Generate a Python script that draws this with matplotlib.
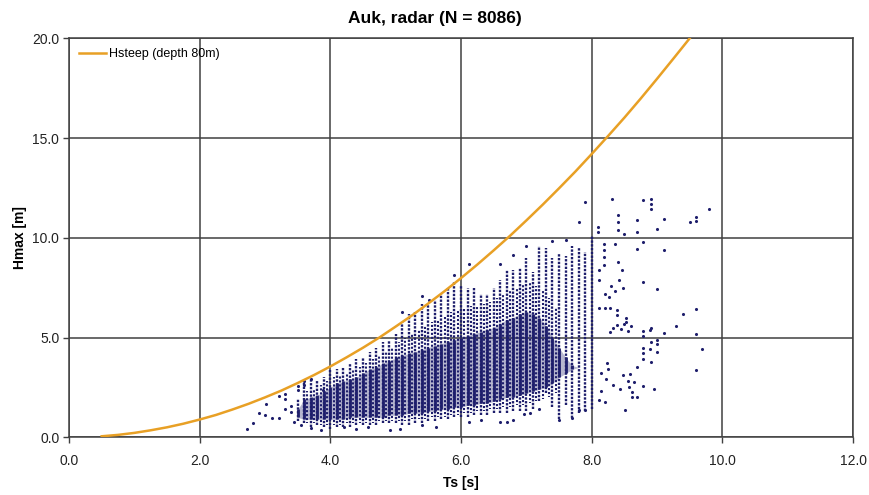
import matplotlib
matplotlib.use("Agg")
import matplotlib.pyplot as plt

plt.rcParams['font.family'] = ['Liberation Sans', 'DejaVu Sans']

# ---------------- data ----------------
# Hsteep limiting curve (depth 80 m)
steep_ts = [0.5, 0.75, 1.0, 1.25, 1.5, 1.75, 2.0, 2.25, 2.5, 2.75, 3.0, 3.25, 3.5,
            3.75, 4.0, 4.25, 4.5, 4.75, 5.0, 5.25, 5.5, 5.75, 6.0, 6.25, 6.5, 6.75,
            7.0, 7.25, 7.5, 7.75, 8.0, 8.25, 8.5, 8.75, 9.0, 9.25, 9.5]
steep_h = [0.05, 0.12, 0.22, 0.35, 0.50, 0.68, 0.89, 1.12, 1.39, 1.68, 2.00, 2.34, 2.72,
           3.12, 3.55, 4.01, 4.49, 5.00, 5.55, 6.11, 6.71, 7.33, 7.98, 8.66, 9.37, 10.10,
           10.87, 11.66, 12.48, 13.32, 14.20, 15.10, 16.02, 16.98, 17.97, 18.98, 20.00]

# Dense Ts columns of radar records: column Ts, full extent and dense core extent
col_ts = [3.5, 3.6, 3.7, 3.8, 3.9, 4.0, 4.1, 4.2, 4.3, 4.4, 4.5, 4.6, 4.7, 4.8, 4.9,
          5.0, 5.1, 5.2, 5.3, 5.4, 5.5, 5.6, 5.7, 5.8, 5.9, 6.0, 6.1, 6.2, 6.3, 6.4,
          6.5, 6.6, 6.7, 6.8, 6.9, 7.0, 7.1, 7.2, 7.3, 7.4, 7.5, 7.6, 7.7, 7.8, 7.9, 8.0]
col_lo = [0.8, 0.7, 0.5, 0.6, 0.5, 0.4, 0.5, 0.5, 0.5, 0.6, 0.6, 0.6, 0.6, 0.7, 0.7,
          0.7, 0.6, 0.6, 0.7, 0.7, 0.8, 0.8, 0.9, 0.9, 1.0, 1.0, 1.0, 1.1, 1.1, 1.1,
          1.2, 1.2, 1.2, 1.3, 1.3, 1.3, 1.4, 1.8, 2.2, 1.5, 0.9, 1.6, 0.95, 1.2, 1.3, 1.4]
col_hi = [1.9, 2.8, 2.9, 2.8, 3.0, 3.4, 3.4, 3.5, 3.7, 3.9, 4.0, 4.3, 4.5, 4.8, 4.9,
          5.2, 5.8, 6.2, 6.3, 6.7, 6.7, 6.9, 7.2, 7.5, 7.8, 7.6, 7.5, 7.5, 7.2, 7.2,
          7.5, 7.9, 8.4, 8.4, 8.5, 9.0, 8.3, 9.6, 9.5, 9.0, 9.2, 9.1, 9.6, 9.5, 9.3, 10.1]
core_lo = [1.0, 0.9, 0.9, 0.9, 0.9, 0.9, 0.9, 0.9, 1.0, 1.0, 1.0, 1.0, 1.0, 1.0, 1.1,
           1.1, 1.1, 1.2, 1.2, 1.2, 1.3, 1.3, 1.4, 1.4, 1.5, 1.5, 1.6, 1.6, 1.7, 1.7,
           1.8, 1.9, 2.0, 2.0, 2.1, 2.2, 2.3, 2.4, 2.5, 2.7, 3.0, 3.2, 3.4, 3.5, 3.5, 3.5]
core_hi = [1.4, 1.9, 2.0, 2.1, 2.3, 2.5, 2.7, 2.8, 2.9, 3.0, 3.2, 3.4, 3.5, 3.7, 3.8,
           4.0, 4.1, 4.2, 4.3, 4.4, 4.5, 4.6, 4.7, 4.8, 4.9, 5.0, 5.1, 5.2, 5.3, 5.4,
           5.5, 5.7, 5.9, 6.0, 6.2, 6.3, 6.2, 6.0, 5.6, 5.0, 4.5, 4.0, 3.6, 3.5, 3.5, 3.5]

# Intermediate Ts columns between the main ones
mid_ts = [3.65, 3.75, 3.85, 3.95, 4.05, 4.15, 4.25, 4.35, 4.45, 4.55, 4.65, 4.75, 4.85,
          4.95, 5.05, 5.15, 5.25, 5.35, 5.45, 5.55, 5.65, 5.75, 5.85, 5.95, 6.05, 6.15,
          6.25, 6.35, 6.45, 6.55, 6.65, 6.75, 6.85, 6.95, 7.05, 7.15, 7.25, 7.35, 7.45]
mid_lo = [0.7, 0.7, 0.6, 0.6, 0.6, 0.6, 0.7, 0.7, 0.7, 0.7, 0.7, 0.8, 0.8,
          0.8, 0.8, 0.8, 0.9, 0.9, 0.9, 1.0, 1.0, 1.0, 1.1, 1.1, 1.2, 1.2,
          1.3, 1.3, 1.4, 1.4, 1.5, 1.5, 1.6, 1.6, 1.7, 1.8, 1.9, 2.0, 2.2]
mid_hi = [2.3, 2.4, 2.6, 2.8, 3.0, 3.1, 3.2, 3.4, 3.5, 3.7, 3.9, 4.1, 4.3,
          4.5, 4.8, 5.0, 5.2, 5.4, 5.6, 5.8, 5.9, 6.1, 6.3, 6.4, 6.5, 6.6,
          6.6, 6.7, 6.8, 7.0, 7.2, 7.4, 7.5, 7.7, 7.8, 7.6, 7.4, 7.0, 6.5]

# Isolated records outside the dense columns, (Ts, Hmax)
isolated = [
    (2.72, 0.44), (2.81, 0.72), (2.91, 1.24), (3.00, 1.10), (3.01, 1.69), (3.10, 0.99),
    (3.21, 0.99), (3.21, 2.05), (3.31, 2.19), (3.31, 1.94), (3.40, 1.27), (3.50, 2.56),
    (3.50, 2.39), (3.60, 2.80), (3.60, 2.60), (3.70, 2.94), (3.89, 2.36), (3.40, 1.55),
    (3.30, 1.40), (3.45, 0.75), (3.55, 0.60), (3.71, 0.49), (3.86, 0.35), (4.21, 0.50),
    (4.39, 0.43), (4.57, 0.50), (4.92, 0.35), (5.07, 0.43), (5.41, 0.60), (5.61, 0.52),
    (6.12, 0.77), (6.30, 0.85), (6.60, 0.77), (6.70, 0.77), (6.80, 0.85), (6.96, 1.19),
    (7.05, 1.20), (7.20, 1.44), (7.50, 0.85), (7.70, 0.95), (7.80, 1.35), (7.90, 1.35),
    (5.10, 6.28), (5.41, 7.10), (5.51, 6.87), (5.89, 8.12), (6.12, 8.71), (6.60, 8.71),
    (6.80, 9.12), (7.00, 9.57), (7.39, 9.82), (7.60, 9.91),
    (7.90, 11.80), (7.80, 10.79), (8.09, 10.54), (8.09, 10.29), (8.11, 8.37), (8.11, 7.87),
    (8.19, 9.71), (8.19, 9.37), (8.19, 9.04), (8.19, 8.62), (8.21, 7.20), (8.26, 7.03),
    (8.11, 6.50), (8.20, 6.50), (8.28, 6.50), (8.31, 11.96), (8.36, 9.71), (8.40, 11.13),
    (8.40, 10.79), (8.40, 10.38), (8.40, 8.79), (8.46, 8.37), (8.39, 6.37), (8.39, 6.12),
    (8.50, 10.17), (8.53, 6.00), (8.53, 5.80), (8.30, 7.60), (8.35, 7.35), (8.42, 7.90),
    (8.48, 7.50), (8.33, 5.50), (8.28, 5.30), (8.38, 5.65), (8.45, 5.45), (8.50, 5.70),
    (8.55, 5.35), (8.60, 5.60), (8.69, 10.88), (8.69, 10.29), (8.69, 9.46), (8.79, 11.88),
    (8.79, 9.79), (8.79, 7.78), (8.79, 5.35), (8.79, 5.06), (8.79, 4.50), (8.79, 3.91),
    (8.79, 2.56), (8.79, 4.20), (8.59, 3.19), (8.69, 3.53), (8.62, 2.27), (8.51, 1.39),
    (8.96, 2.44), (8.90, 5.40), (8.90, 4.45), (8.91, 11.96), (8.91, 11.71), (8.91, 11.46),
    (8.91, 5.50), (8.91, 4.76), (8.91, 3.78), (9.00, 4.70), (9.00, 10.46), (9.00, 7.45),
    (9.00, 4.90), (9.00, 4.30), (9.10, 10.96), (9.10, 9.41), (9.10, 5.25), (9.29, 5.58),
    (9.40, 6.16), (9.50, 10.79), (9.59, 3.36), (9.60, 11.04), (9.60, 10.84), (9.60, 6.45),
    (9.60, 5.16), (9.69, 4.45), (9.80, 11.43), (8.15, 3.20), (8.22, 2.90), (8.25, 3.40),
    (8.32, 2.60), (8.44, 2.40), (8.14, 2.30), (8.24, 3.70), (8.56, 2.80), (8.48, 3.10),
    (8.11, 1.85), (8.21, 1.77), (8.57, 2.50), (8.62, 2.02), (8.70, 2.02), (8.65, 2.75),
]
pts_ts = [p[0] for p in isolated]
pts_h = [p[1] for p in isolated]

# ---------------- drawing ----------------
navy = '#1e1e6c'
orange = '#e8a025'
grid_c = '#404040'

fig = plt.figure(figsize=(8.7, 4.95), dpi=100)
ax = fig.add_axes([0.0793, 0.1166, 0.9012, 0.806])

# dense core (overlapping points)
ax.fill_between(col_ts, core_lo, core_hi, color=navy, alpha=0.32, lw=0, zorder=2)
ax.vlines(col_ts, core_lo, core_hi, colors=navy, lw=2.0, zorder=3)
# full column extents as stacked dots
ax.vlines(col_ts, col_lo, col_hi, colors=navy, lw=1.7,
          linestyles=[(0, (1.0, 0.6))], zorder=3)
ax.vlines(mid_ts, mid_lo, mid_hi, colors=navy, lw=1.5,
          linestyles=[(0.5, (1.0, 0.9))], zorder=3)
# isolated records
ax.scatter(pts_ts, pts_h, s=5, color=navy, linewidths=0, zorder=3)

ax.plot(steep_ts, steep_h, color=orange, lw=1.8, zorder=4, label='Hsteep (depth 80m)')

ax.set_xlim(0, 12)
ax.set_ylim(0, 20)
ax.set_xticks([0, 2, 4, 6, 8, 10, 12])
ax.set_yticks([0, 5, 10, 15, 20])
ax.set_xticklabels([f'{v:.1f}' for v in [0, 2, 4, 6, 8, 10, 12]])
ax.set_yticklabels([f'{v:.1f}' for v in [0, 5, 10, 15, 20]])
ax.grid(True, color=grid_c, lw=1.1, zorder=1)
ax.set_axisbelow(True)
for s in ax.spines.values():
    s.set_color(grid_c)
    s.set_linewidth(1.1)
ax.tick_params(axis='both', direction='out', length=4, width=1.0, color=grid_c,
               labelsize=10, labelcolor='#222222', pad=3)
ax.tick_params(axis='x', pad=8)

fig.text(0.5, 0.962, 'Auk, radar (N = 8086)', fontsize=12.5, fontweight='bold',
         ha='center', va='center')
ax.set_xlabel('Ts [s]', fontsize=10, fontweight='bold', labelpad=6)
ax.set_ylabel('Hmax [m]', fontsize=10, fontweight='bold', labelpad=4)

leg = ax.legend(loc='upper left', frameon=False, fontsize=9, handlelength=2.2,
                handletextpad=0.2, borderaxespad=0.4)

fig.savefig('out.png', dpi=100)
